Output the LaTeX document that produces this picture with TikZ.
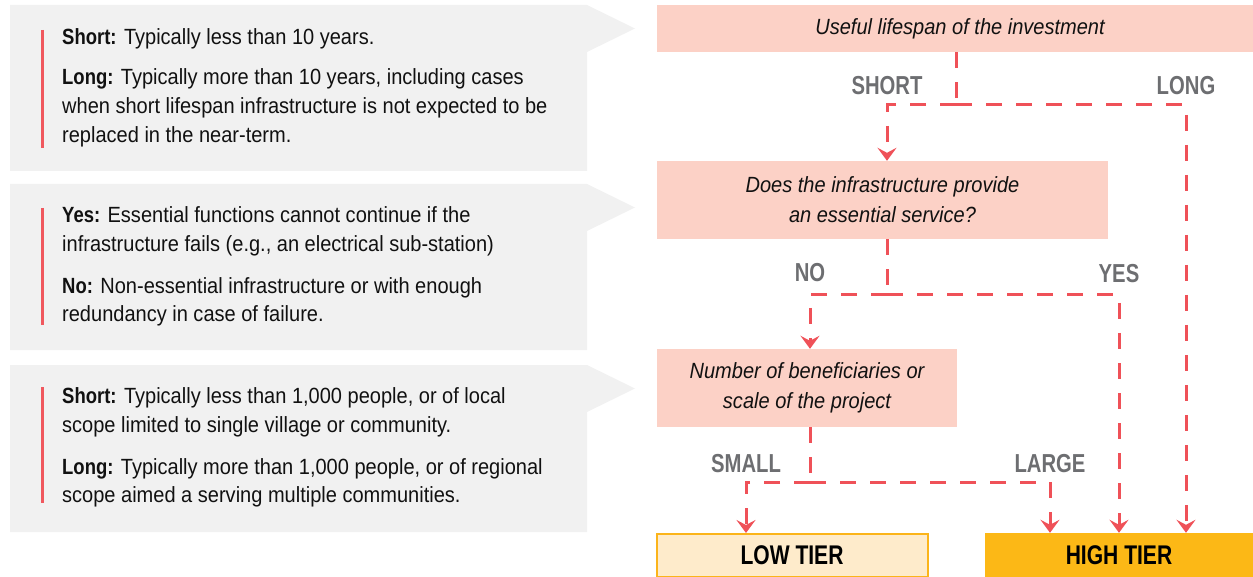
\documentclass[tikz,border=0pt]{standalone}
\usepackage{fontspec}
\setmainfont{Liberation Sans}[FakeStretch=0.91, BoldFeatures={FakeStretch=0.84}]
\newfontfamily\labfont{Liberation Sans}[FakeStretch=0.78]
\newfontfamily\qfont{Liberation Sans}[FakeStretch=0.91]
\usetikzlibrary{arrows.meta}
\definecolor{panelgray}{HTML}{F1F1F1}
\definecolor{barred}{HTML}{F0585E}
\definecolor{qfill}{HTML}{FCD1C6}
\definecolor{dashred}{HTML}{EF5158}
\definecolor{labgray}{HTML}{6D6E71}
\definecolor{lowfill}{HTML}{FEEBCB}
\definecolor{lowborder}{HTML}{FBB41A}
\definecolor{highfill}{HTML}{FCB816}
\definecolor{bodytext}{HTML}{111111}
\tikzset{
  panel/.style={fill=panelgray, draw=none},
  redbar/.style={draw=barred, line width=3pt},
  bodyline/.style={anchor=base west, inner sep=0pt, text=bodytext,
    font=\fontsize{22}{29}\selectfont},
  qbox/.style={fill=qfill, draw=none, inner sep=0pt, align=center,
    text=bodytext, font=\qfont\itshape\fontsize{22}{30}\selectfont},
  lowbox/.style={fill=lowfill, draw=lowborder, line width=2pt, inner sep=0pt,
    font=\labfont\bfseries\fontsize{27}{30}\selectfont, text=black},
  highbox/.style={fill=highfill, draw=none, inner sep=0pt,
    font=\labfont\bfseries\fontsize{27}{30}\selectfont, text=black},
  branchlabel/.style={inner sep=0pt, text=labgray,
    font=\labfont\bfseries\fontsize{26}{30}\selectfont},
  dl/.style={draw=dashred, line width=3pt, dash pattern=on 16pt off 14pt},
  arrowed/.style={-{Stealth[length=13pt,width=19pt,inset=5pt]}},
}
\begin{document}
\begin{tikzpicture}[x=1pt,y=-1pt]
\useasboundingbox (0,0) rectangle (1253,577);

% left explanation panels
\fill[panel] (10,5) -- (587,5) -- (635,28.5) -- (587,52) -- (587,171) -- (10,171) -- cycle;
\fill[panel] (10,184) -- (587,184) -- (635,207.5) -- (587,231) -- (587,350) -- (10,350) -- cycle;
\fill[panel] (10,365) -- (587,365) -- (635,388.5) -- (587,412) -- (587,532) -- (10,532) -- cycle;
\draw[redbar] (42,30) -- (42,148);
\draw[redbar] (42,208) -- (42,325);
\draw[redbar] (42,387) -- (42,503);

\node[bodyline] (p1a) at (62,45) {\textbf{Short:} Typically less than 10 years.};
\node[bodyline] (p1b) at (62,85) {\textbf{Long:} Typically more than 10 years, including cases};
\node[bodyline] (p1c) at (62,114) {when short lifespan infrastructure is not expected to be};
\node[bodyline] (p1d) at (62,143) {replaced in the near-term.};

\node[bodyline] (p2a) at (62,223) {\textbf{Yes:} Essential functions cannot continue if the};
\node[bodyline] (p2b) at (62,252) {infrastructure fails (e.g., an electrical sub-station)};
\node[bodyline] (p2c) at (62,294) {\textbf{No:} Non-essential infrastructure or with enough};
\node[bodyline] (p2d) at (62,322) {redundancy in case of failure.};

\node[bodyline] (p3a) at (62,403) {\textbf{Short:} Typically less than 1,000 people, or of local};
\node[bodyline] (p3b) at (62,432) {scope limited to single village or community.};
\node[bodyline] (p3c) at (62,474) {\textbf{Long:} Typically more than 1,000 people, or of regional};
\node[bodyline] (p3d) at (62,502) {scope aimed a serving multiple communities.};

% decision boxes
\node[qbox, minimum width=606pt, minimum height=47pt] (b1) at (960,28.5)
  {Useful lifespan of the investment};
\node[qbox, minimum width=451pt, minimum height=78pt] (b2) at (882.5,200)
  {Does the infrastructure provide\\an essential service?};
\node[qbox, minimum width=300pt, minimum height=78pt] (b3) at (807,388)
  {Number of beneficiaries or\\scale of the project};
\node[lowbox, minimum width=271pt, minimum height=43pt] (lo) at (792,555.5) {LOW TIER};
\node[highbox, minimum width=268pt, minimum height=44pt] (hi) at (1119,555) {HIGH TIER};

% branch labels
\node[branchlabel] (lshort) at (887,86) {SHORT};
\node[branchlabel] (llong) at (1186,86) {LONG};
\node[branchlabel] (lno) at (810,273) {NO};
\node[branchlabel] (lyes) at (1119,274) {YES};
\node[branchlabel] (lsmall) at (746,464) {SMALL};
\node[branchlabel] (llarge) at (1050,464) {LARGE};

% junctions
\coordinate (j1) at (956,105);
\coordinate (jl1) at (887,105);
\coordinate (jr1) at (1186,105);
\coordinate (j2) at (887,295);
\coordinate (jl2) at (810,295);
\coordinate (jr2) at (1119,295);
\coordinate (j3) at (810,482);
\coordinate (jl3) at (746,482);
\coordinate (jr3) at (1050,482);

% connectors
\draw[dl] (j1 |- b1.south) -- (j1);
\draw[dl, arrowed] (j1) -- (jl1) -- (jl1 |- b2.north);
\draw[dl, arrowed] (j1) -- (jr1) -- (jr1 |- hi.north);
\draw[dl] (j2 |- b2.south) -- (j2);
\draw[dl, arrowed] (j2) -- (jl2) -- (jl2 |- b3.north);
\draw[dl, arrowed] (j2) -- (jr2) -- (jr2 |- hi.north);
\draw[dl] (j3 |- b3.south) -- (j3);
\draw[dl, arrowed] (j3) -- (jl3) -- (jl3 |- lo.north);
\draw[dl, arrowed] (j3) -- (jr3) -- (jr3 |- hi.north);
\end{tikzpicture}
\end{document}
